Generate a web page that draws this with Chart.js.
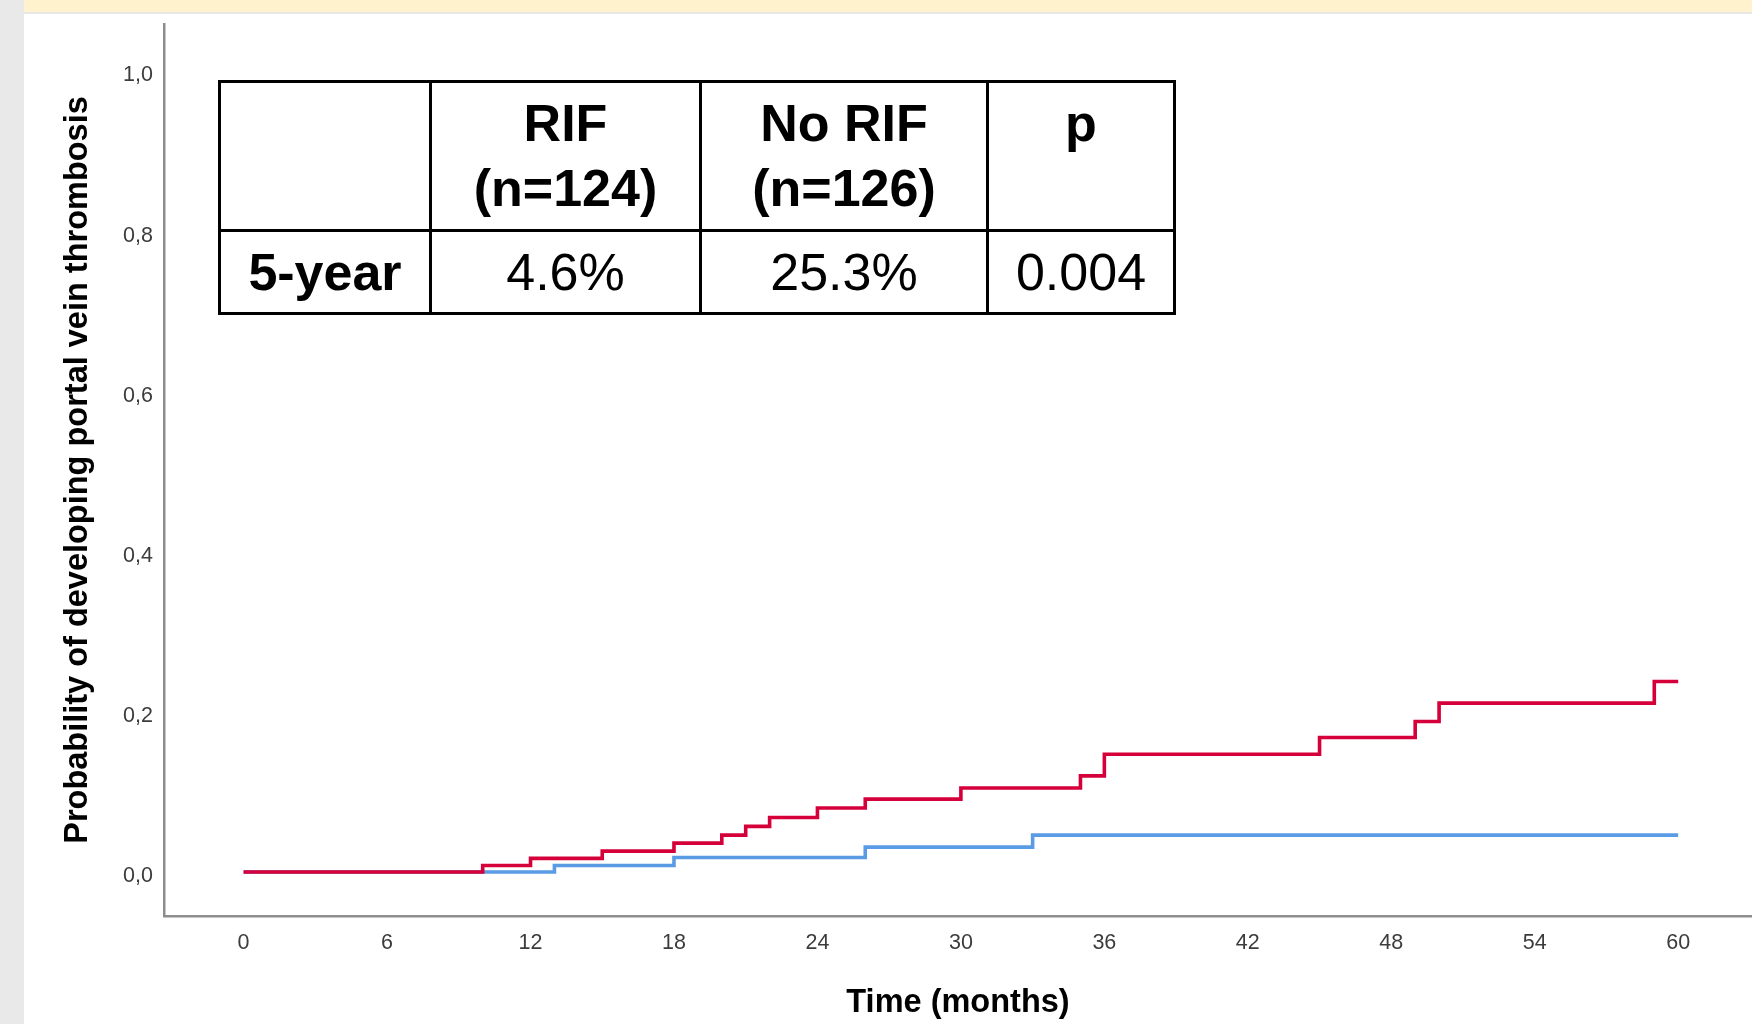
<!DOCTYPE html>
<html>
<head>
<meta charset="utf-8">
<title>Portal vein thrombosis - RIF vs No RIF</title>
<script src="https://cdn.jsdelivr.net/npm/chart.js@4.4.1/dist/chart.umd.min.js"></script>
<style>
  html, body { margin: 0; padding: 0; background: #ffffff; }
  body { width: 1752px; height: 1024px; position: relative; overflow: hidden; font-family: "Liberation Sans", Arial, sans-serif; }
  .side-strip { position: absolute; left: 0; top: 0; width: 24px; height: 1024px; background: #e9e9e9; }
  .top-band { position: absolute; left: 24px; top: 0; right: 0; height: 12px; background: #fff2cc; }
  .top-rule { position: absolute; left: 24px; top: 12px; right: 0; height: 2px; background: #e7e7e7; }
  #pvtChart { position: absolute; left: 0; top: 0; }
  .summary {
    position: absolute; left: 218px; top: 80px;
    border-collapse: collapse; background: #ffffff;
    font-family: "Liberation Sans", Arial, sans-serif; font-size: 52px; color: #000;
  }
  .summary td { border: 3px solid #000; text-align: center; padding: 0; line-height: 65px; }
  .summary .head td { height: 138px; vertical-align: top; padding-top: 8px; font-weight: bold; }
  .summary .row td { height: 80px; vertical-align: middle; }
  .summary .bold { font-weight: bold; }
</style>
</head>
<body>
<div class="side-strip"></div>
<div class="top-band"></div>
<div class="top-rule"></div>
<canvas id="pvtChart" width="1752" height="1024"></canvas>

<table class="summary">
  <tr class="head">
    <td style="width:208px"></td>
    <td style="width:267px">RIF<br>(n=124)</td>
    <td style="width:284px">No RIF<br>(n=126)</td>
    <td style="width:184px">p</td>
  </tr>
  <tr class="row">
    <td class="bold">5-year</td>
    <td>4.6%</td>
    <td>25.3%</td>
    <td>0.004</td>
  </tr>
</table>

<script>
// cumulative incidence (months, probability)
const noRifMonths = [0, 10, 12, 15, 18, 20, 21, 22, 24, 26, 30, 35, 36, 45, 49, 50, 59, 60];
const noRifProb   = [0, 0.008, 0.017, 0.026, 0.036, 0.046, 0.057, 0.068, 0.080, 0.091, 0.105, 0.120, 0.147, 0.168, 0.188, 0.211, 0.238, 0.238];

const rifMonths = [0, 13, 18, 26, 33, 60];
const rifProb   = [0, 0.008, 0.018, 0.031, 0.046, 0.046];

const xTicks = [0, 6, 12, 18, 24, 30, 36, 42, 48, 54, 60];
const yTicks = [0, 0.2, 0.4, 0.6, 0.8, 1.0];
const yTickLabels = ["0,0", "0,2", "0,4", "0,6", "0,8", "1,0"];

function toPoints(xs, ys) {
  return xs.map((x, i) => ({ x: x, y: ys[i] }));
}

document.addEventListener("DOMContentLoaded", () => {
  const ctx = document.getElementById("pvtChart").getContext("2d");

  new Chart(ctx, {
    type: "line",
    data: {
      datasets: [
        {
          label: "No RIF",
          data: toPoints(noRifMonths, noRifProb),
          borderColor: "#d5003a",
          borderWidth: 3.6,
          stepped: "before",
          pointRadius: 0,
          borderJoinStyle: "miter",
          fill: false,
        },
        {
          label: "RIF",
          data: toPoints(rifMonths, rifProb),
          borderColor: "#5a9be6",
          borderWidth: 3.6,
          stepped: "before",
          pointRadius: 0,
          borderJoinStyle: "miter",
          fill: false,
        },
      ],
    },
    options: {
      responsive: false,
      animation: false,
      devicePixelRatio: 1,
      layout: { padding: { left: 24, top: 24, right: 0, bottom: 0 } },
      plugins: {
        legend: { display: false },
        tooltip: { enabled: false },
      },
      scales: {
        x: {
          type: "linear",
          min: -3.329,
          max: 63.087,
          afterBuildTicks: (axis) => { axis.ticks = xTicks.map(v => ({ value: v })); },
          afterFit: (axis) => { axis.height = 108; },
          grid: { display: false, drawTicks: false },
          border: { display: true, color: "#8e8e8e", width: 2.5 },
          ticks: {
            autoSkip: false,
            maxRotation: 0,
            padding: 14,
            color: "#3c3c3c",
            font: { family: "'Liberation Sans', Arial, sans-serif", size: 21.5 },
          },
          title: {
            display: true,
            text: "Time (months)",
            color: "#000",
            padding: { top: 0, bottom: 1.5 },
            font: { family: "'Liberation Sans', Arial, sans-serif", size: 32.5, weight: "bold" },
          },
        },
        y: {
          type: "linear",
          min: -0.0550,
          max: 1.0594,
          afterBuildTicks: (axis) => { axis.ticks = yTicks.map(v => ({ value: v })); },
          afterFit: (axis) => { axis.width = 140; },
          grid: { display: false, drawTicks: false },
          border: { display: true, color: "#8e8e8e", width: 2.5 },
          ticks: {
            padding: 11,
            labelOffset: 4,
            color: "#3c3c3c",
            font: { family: "'Liberation Sans', Arial, sans-serif", size: 21.5 },
            callback: (value) => yTickLabels[yTicks.indexOf(value)],
          },
          title: {
            display: true,
            text: "Probability of developing portal vein thrombosis",
            color: "#000",
            padding: { top: 34.5, bottom: 0 },
            font: { family: "'Liberation Sans', Arial, sans-serif", size: 32.5, weight: "bold" },
          },
        },
      },
    },
  });
});
</script>
</body>
</html>
